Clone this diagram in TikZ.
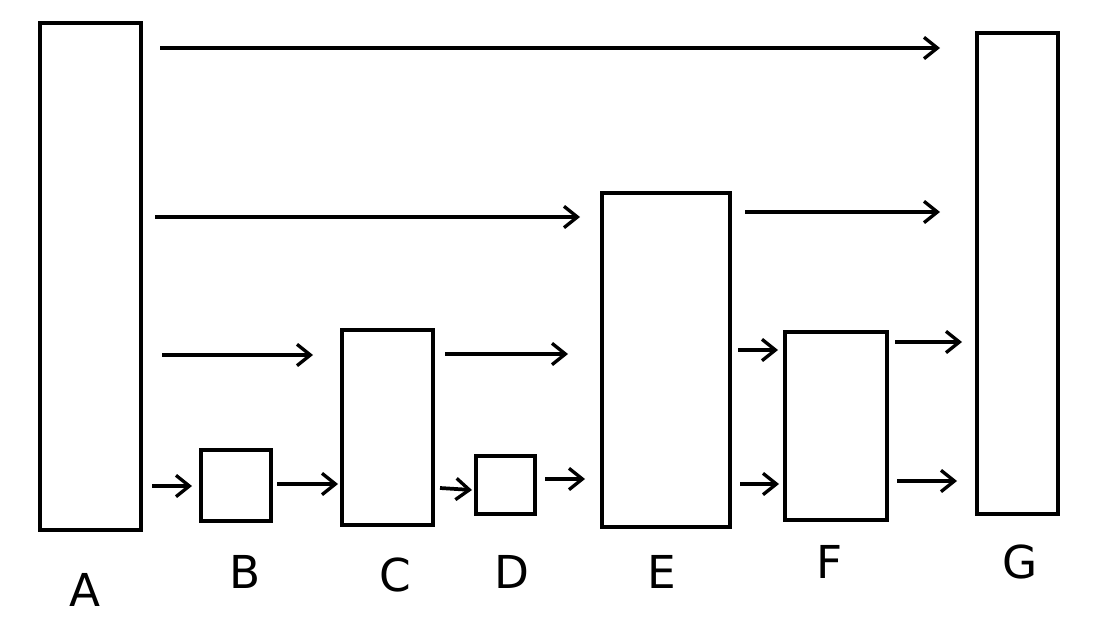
\documentclass[tikz,border=0pt]{standalone}
\usepackage{fontspec}
\setmainfont{DejaVu Sans}
\usetikzlibrary{arrows.meta}
\begin{document}
\begin{tikzpicture}[x=0.75pt,y=-0.75pt,
  blk/.style={draw,line width=2.8pt},
  arr/.style={line width=2.8pt,-{Straight Barb[length=10pt,width=16pt,line width=2.5pt]}},
  lab/.style={font=\fontsize{34}{34}\selectfont}]
\useasboundingbox (0,0) rectangle (1120,627);
\draw[blk] (40,23) rectangle (141,530);
\draw[blk] (201,450) rectangle (271,521);
\draw[blk] (342,330) rectangle (433,525);
\draw[blk] (476,456) rectangle (535,514);
\draw[blk] (602,193) rectangle (730,527);
\draw[blk] (785,332) rectangle (887,520);
\draw[blk] (977,33) rectangle (1058,514);
\draw[arr] (160,48) -- (940,48);
\draw[arr] (155,217) -- (580,217);
\draw[arr] (162,355) -- (313,355);
\draw[arr] (152,486) -- (192,486);
\draw[arr] (277,484) -- (338,484);
\draw[arr] (445,354) -- (568,354);
\draw[arr] (440,488) -- (472,490);
\draw[arr] (545,479) -- (585,479);
\draw[arr] (745,212) -- (940,212);
\draw[arr] (738,350) -- (778,350);
\draw[arr] (740,484) -- (779,484);
\draw[arr] (895,342) -- (962,342);
\draw[arr] (897,481) -- (957,481);
\node[lab] (la) at (85,590) {A};
\node[lab] (lb) at (245,572) {B};
\node[lab] (lc) at (395,575) {C};
\node[lab] (ld) at (512,572) {D};
\node[lab] (le) at (662,572) {E};
\node[lab] (lf) at (830,562) {F};
\node[lab] (lg) at (1020,562) {G};
\end{tikzpicture}
\end{document}
